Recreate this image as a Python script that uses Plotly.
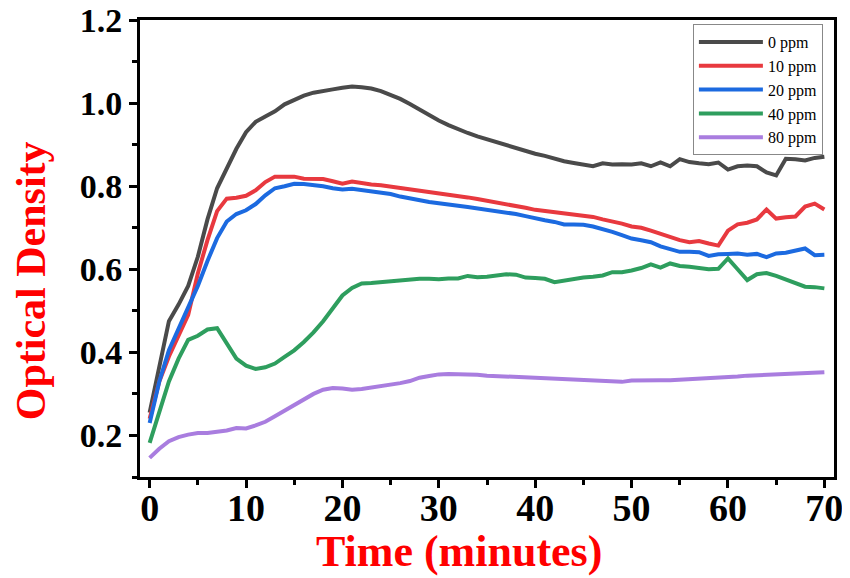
import plotly.graph_objects as go

time_min = list(range(0, 71))

od_0ppm = [0.255, 0.37, 0.475, 0.515, 0.56, 0.63, 0.72, 0.795, 0.845, 0.89,
           0.93, 0.955, 0.968, 0.98, 0.997, 1.007, 1.018, 1.025, 1.03, 1.033,
           1.037, 1.04, 1.038, 1.035, 1.029, 1.02, 1.01, 0.998, 0.985, 0.97,
           0.958, 0.947, 0.937, 0.928, 0.92, 0.913, 0.905, 0.9, 0.892, 0.884,
           0.878, 0.873, 0.866, 0.86, 0.856, 0.852, 0.848, 0.855, 0.852, 0.853,
           0.852, 0.855, 0.848, 0.857, 0.848, 0.865, 0.858, 0.855, 0.853, 0.857,
           0.84, 0.848, 0.85, 0.848, 0.833, 0.826, 0.866, 0.865, 0.862, 0.868,
           0.871]

od_10ppm = [0.24, 0.33, 0.39, 0.44, 0.49, 0.59, 0.67, 0.74, 0.77, 0.772,
            0.777, 0.79, 0.81, 0.823, 0.823, 0.823, 0.818, 0.818, 0.817, 0.812,
            0.806, 0.811, 0.807, 0.804, 0.802, 0.799, 0.796, 0.792, 0.788, 0.785,
            0.782, 0.779, 0.776, 0.773, 0.769, 0.765, 0.762, 0.758, 0.754, 0.748,
            0.743, 0.74, 0.736, 0.733, 0.731, 0.728, 0.726, 0.72, 0.716, 0.71,
            0.703, 0.7, 0.693, 0.685, 0.678, 0.67, 0.665, 0.668, 0.662, 0.657,
            0.693, 0.708, 0.712, 0.72, 0.744, 0.722, 0.725, 0.727, 0.751, 0.758,
            0.744]

od_20ppm = [0.23, 0.33, 0.405, 0.455, 0.51, 0.56, 0.62, 0.675, 0.715, 0.733,
            0.742, 0.757, 0.778, 0.795, 0.8, 0.806, 0.805, 0.803, 0.8, 0.795,
            0.792, 0.794, 0.791, 0.788, 0.785, 0.781, 0.775, 0.77, 0.766, 0.762,
            0.759, 0.757, 0.753, 0.75, 0.747, 0.744, 0.74, 0.737, 0.733, 0.728,
            0.722, 0.718, 0.714, 0.708, 0.708, 0.707, 0.703, 0.697, 0.69, 0.682,
            0.674, 0.67, 0.665, 0.655, 0.648, 0.642, 0.642, 0.641, 0.632, 0.636,
            0.637, 0.638, 0.635, 0.637, 0.629, 0.638, 0.64, 0.645, 0.65, 0.634,
            0.635]

od_40ppm = [0.182, 0.26, 0.33, 0.385, 0.43, 0.44, 0.455, 0.458, 0.42, 0.385,
            0.368, 0.36, 0.364, 0.373, 0.389, 0.405, 0.425, 0.448, 0.475, 0.505,
            0.537, 0.555, 0.566, 0.567, 0.569, 0.571, 0.573, 0.576, 0.577, 0.577,
            0.576, 0.578, 0.578, 0.584, 0.581, 0.582, 0.585, 0.588, 0.587, 0.58,
            0.579, 0.577, 0.569, 0.573, 0.576, 0.58, 0.582, 0.585, 0.593, 0.593,
            0.597, 0.603, 0.612, 0.604, 0.614, 0.608, 0.606, 0.603, 0.6, 0.601,
            0.626, 0.6, 0.574, 0.588, 0.591, 0.584, 0.576, 0.566, 0.558, 0.557,
            0.554]

od_80ppm = [0.146, 0.168, 0.186, 0.196, 0.202, 0.206, 0.206, 0.209, 0.212, 0.218,
            0.217, 0.224, 0.233, 0.246, 0.26, 0.274, 0.288, 0.3, 0.31, 0.314,
            0.313, 0.31, 0.312, 0.315, 0.318, 0.322, 0.326, 0.331, 0.339, 0.343,
            0.347, 0.348, 0.348, 0.348, 0.346, 0.344, 0.343, 0.342, 0.341, 0.34,
            0.339, 0.337, 0.336, 0.335, 0.333, 0.333, 0.332, 0.332, 0.331, 0.329,
            0.332, 0.333, 0.333, 0.333, 0.333, 0.334, 0.336, 0.337, 0.338, 0.339,
            0.34, 0.342, 0.344, 0.345, 0.345, 0.346, 0.347, 0.349, 0.35, 0.351,
            0.352]

series_names = ["0 ppm", "10 ppm", "20 ppm", "40 ppm", "80 ppm"]
series_values = [od_0ppm, od_10ppm, od_20ppm, od_40ppm, od_80ppm]
series_colors = ["#4a4a4a", "#e8393f", "#1c6ae0", "#2e9e5e", "#a97ddf"]

x_tick_vals = [0, 10, 20, 30, 40, 50, 60, 70]
y_tick_vals = [0.2, 0.4, 0.6, 0.8, 1.0, 1.2]
y_tick_text = ["0.2", "0.4", "0.6", "0.8", "1.0", "1.2"]
x_title = "Time (minutes)"
y_title = "Optical Density"

fig = go.Figure()
for name, vals, col in zip(series_names, series_values, series_colors):
    fig.add_trace(go.Scatter(x=time_min, y=vals, mode="lines", name=name,
                             line=dict(color=col, width=4)))

serif = "Liberation Serif, Times New Roman, serif"

fig.update_layout(
    width=850, height=578,
    margin=dict(l=132, r=24, t=12, b=109),
    paper_bgcolor="white", plot_bgcolor="white",
    font=dict(family=serif, color="black"),
    showlegend=True,
    legend=dict(
        x=0.984, y=0.991, xanchor="right", yanchor="top",
        bordercolor="#888888", borderwidth=1, bgcolor="white",
        font=dict(family=serif, size=16, color="black"),
        itemwidth=64, tracegroupgap=0,
    ),
    xaxis=dict(
        range=[-1, 71], tickvals=x_tick_vals, automargin=False,
        ticks="outside", ticklen=8, tickwidth=3, tickcolor="black",
        minor=dict(dtick=5, tick0=0, ticks="outside", ticklen=5, tickwidth=3, tickcolor="black"),
        showline=True, linewidth=3, linecolor="black", mirror=True,
        showgrid=False, zeroline=False, ticklabelstandoff=-13,
        ticklabeloverflow="allow",
        tickfont=dict(family=serif, size=38, color="black", weight="bold"),
    ),
    yaxis=dict(
        range=[0.1, 1.2], tickvals=y_tick_vals, ticktext=y_tick_text, automargin=False,
        ticks="outside", ticklen=8, tickwidth=3, tickcolor="black",
        minor=dict(dtick=0.1, tick0=0.1, ticks="outside", ticklen=5, tickwidth=3, tickcolor="black"),
        showline=True, linewidth=3, linecolor="black", mirror=True,
        showgrid=False, zeroline=False, ticklabeloverflow="allow",
        tickfont=dict(family=serif, size=34, color="black", weight="bold"),
    ),
    annotations=[
        dict(text="<b>" + x_title + "</b>", xref="paper", yref="paper",
             x=0.460, y=-0.162, xanchor="center", yanchor="middle", showarrow=False,
             font=dict(family=serif, size=44, color="#ff0000")),
        dict(text="<b>" + y_title + "</b>", xref="paper", yref="paper",
             x=-0.156, y=0.43, xanchor="center", yanchor="middle", showarrow=False,
             textangle=-90,
             font=dict(family=serif, size=42, color="#ff0000")),
    ],
)

fig.write_html("out.html")
